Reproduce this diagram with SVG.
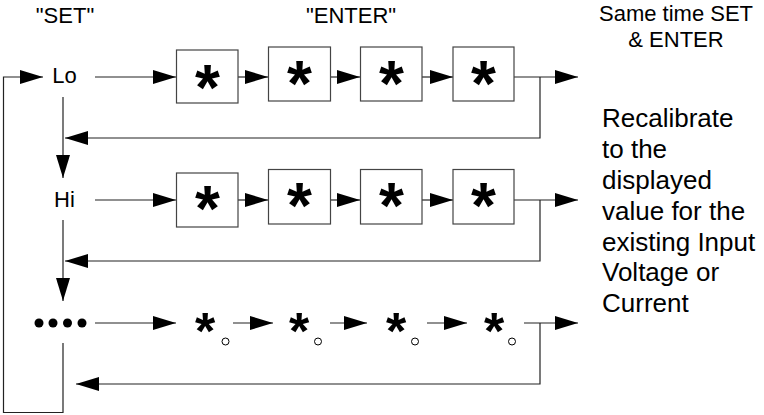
<svg xmlns="http://www.w3.org/2000/svg" width="764" height="415" viewBox="0 0 764 415">
<style>
  text { font-family: "Liberation Sans", Arial, sans-serif; fill: #000; }
  .lbl { font-size: 22px; }
  .para { font-size: 26px; }
  .ast { font-size: 64px; font-weight: bold; text-anchor: middle; }
  .ast3 { font-size: 52px; font-weight: bold; text-anchor: middle; }
  .box { fill: #fff; stroke: #444; stroke-width: 1.2; }
  .ln { fill: none; stroke: #222; stroke-width: 1.2; }
  .ring { fill: #fff; stroke: #000; stroke-width: 1; }
</style>
<defs>
  <marker id="ah" viewBox="0 0 23 14" refX="23" refY="7" markerWidth="23" markerHeight="14" markerUnits="userSpaceOnUse" orient="auto">
    <path d="M0,0 L23,7 L0,14 Z" fill="#000"/>
  </marker>
</defs>
<rect width="764" height="415" fill="#fff"/>

<g id="headers">
  <text class="lbl" x="65" y="23" text-anchor="middle">"SET"</text>
  <text class="lbl" x="351" y="23" text-anchor="middle">"ENTER"</text>
  <text class="lbl" x="676" y="21" text-anchor="middle">Same time SET</text>
  <text class="lbl" x="676" y="47" text-anchor="middle">&amp; ENTER</text>
</g>

<g id="note">
  <text class="para" x="602" y="127">Recalibrate</text>
  <text class="para" x="602" y="158">to the</text>
  <text class="para" x="602" y="189">displayed</text>
  <text class="para" x="602" y="220">value for the</text>
  <text class="para" x="602" y="250.5">existing Input</text>
  <text class="para" x="602" y="281">Voltage or</text>
  <text class="para" x="602" y="312">Current</text>
</g>

<g id="connectors">
  <path class="ln" d="M63,343 V412.5 H3.5 V77 H43" marker-end="url(#ah)"/>
  <path class="ln" d="M95,77 H176" marker-end="url(#ah)"/>
  <path class="ln" d="M238,77 H268" marker-end="url(#ah)"/>
  <path class="ln" d="M331,77 H360" marker-end="url(#ah)"/>
  <path class="ln" d="M422,77 H453" marker-end="url(#ah)"/>
  <path class="ln" d="M514,77 H578" marker-end="url(#ah)"/>
  <path class="ln" d="M540,77 V138 H65" marker-end="url(#ah)"/>
  <path class="ln" d="M63,97 V178" marker-end="url(#ah)"/>

  <path class="ln" d="M95,200 H176" marker-end="url(#ah)"/>
  <path class="ln" d="M238,200 H268" marker-end="url(#ah)"/>
  <path class="ln" d="M331,200 H360" marker-end="url(#ah)"/>
  <path class="ln" d="M422,200 H453" marker-end="url(#ah)"/>
  <path class="ln" d="M514,200 H578" marker-end="url(#ah)"/>
  <path class="ln" d="M540,200 V261 H65" marker-end="url(#ah)"/>
  <path class="ln" d="M63,220 V301" marker-end="url(#ah)"/>

  <path class="ln" d="M95,323 H176" marker-end="url(#ah)"/>
  <path class="ln" d="M233,323 H273" marker-end="url(#ah)"/>
  <path class="ln" d="M330,323 H367" marker-end="url(#ah)"/>
  <path class="ln" d="M427,323 H467" marker-end="url(#ah)"/>
  <path class="ln" d="M524,323 H578" marker-end="url(#ah)"/>
  <path class="ln" d="M540,323 V384 H76" marker-end="url(#ah)"/>
</g>

<g id="lo"><text class="lbl" x="64.5" y="83" text-anchor="middle">Lo</text></g>
<g id="hi"><text class="lbl" x="64.5" y="207" text-anchor="middle">Hi</text></g>
<g id="more">
  <circle cx="39" cy="323" r="4.5"/>
  <circle cx="53" cy="323" r="4.5"/>
  <circle cx="67.5" cy="323" r="4.5"/>
  <circle cx="82" cy="323" r="4.5"/>
</g>

<g id="lo-d1"><rect class="box" x="176.5" y="50" width="61.5" height="53"/><text class="ast" x="207.5" y="110">*</text></g>
<g id="lo-d2"><rect class="box" x="268.5" y="47" width="62" height="54"/><text class="ast" x="299.5" y="106">*</text></g>
<g id="lo-d3"><rect class="box" x="360.5" y="47" width="61.5" height="54"/><text class="ast" x="391.5" y="106">*</text></g>
<g id="lo-d4"><rect class="box" x="453" y="47" width="61" height="54"/><text class="ast" x="483.5" y="106">*</text></g>

<g id="hi-d1"><rect class="box" x="176.5" y="173" width="61.5" height="54"/><text class="ast" x="207.5" y="231">*</text></g>
<g id="hi-d2"><rect class="box" x="268.5" y="169.5" width="62" height="54.5"/><text class="ast" x="299.5" y="228">*</text></g>
<g id="hi-d3"><rect class="box" x="360.5" y="169.5" width="61.5" height="54.5"/><text class="ast" x="391.5" y="228">*</text></g>
<g id="hi-d4"><rect class="box" x="453" y="169.5" width="61" height="54.5"/><text class="ast" x="483.5" y="228">*</text></g>

<g id="m-d1"><text class="ast3" x="205" y="349">*</text><circle class="ring" cx="225.5" cy="341.5" r="3.5"/></g>
<g id="m-d2"><text class="ast3" x="299" y="349">*</text><circle class="ring" cx="318" cy="341.5" r="3.5"/></g>
<g id="m-d3"><text class="ast3" x="396" y="349">*</text><circle class="ring" cx="415" cy="341.5" r="3.5"/></g>
<g id="m-d4"><text class="ast3" x="494" y="349">*</text><circle class="ring" cx="512" cy="341.5" r="3.5"/></g>
</svg>
